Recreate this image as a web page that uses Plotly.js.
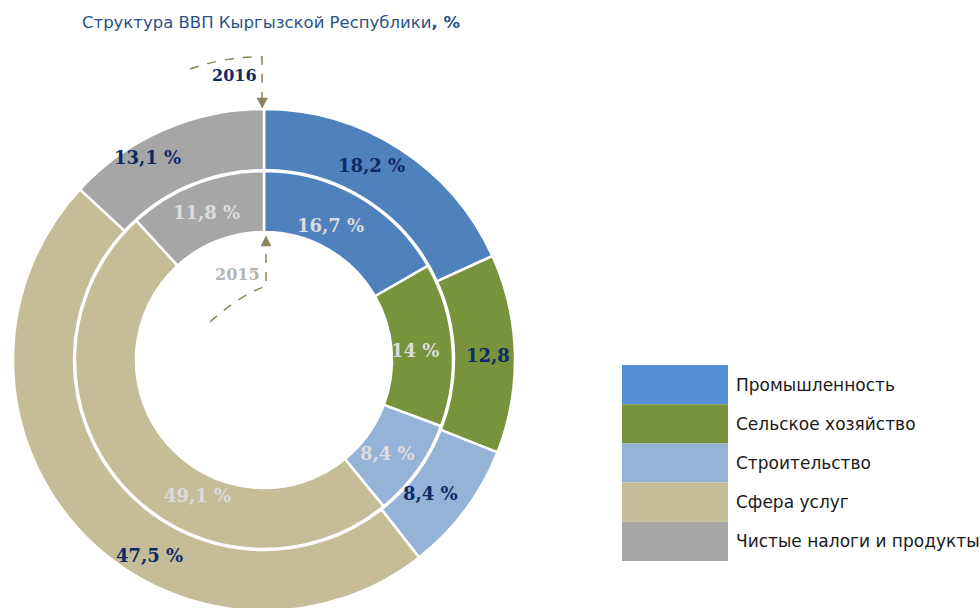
<!DOCTYPE html>
<html>
<head>
<meta charset="utf-8">
<script src="https://cdn.plot.ly/plotly-3.0.1.min.js"></script>
<style>
html,body{margin:0;padding:0;overflow:hidden;background:#fff;}
#chart{width:980px;height:640px;}
</style>
</head>
<body>
<div id="chart"></div>
<script>
// ---- data ----
const categories = ['Промышленность','Сельское хозяйство','Строительство','Сфера услуг','Чистые налоги и продукты'];
const values2016 = [18.2, 12.8, 8.4, 47.5, 13.1];
const values2015 = [16.7, 14.0, 8.4, 49.1, 11.8];
const labels2016 = ['18,2 %','12,8','8,4 %','47,5 %','13,1 %'];
const labels2015 = ['16,7 %','14 %','8,4 %','49,1 %','11,8 %'];
const titleText = 'Структура ВВП Кыргызской Республики<b>, %</b>';

// ---- styles ----
const sliceColors = ['#4f81bd','#77933c','#95b3d7','#c4bd97','#a6a6a6'];
const legendColors = ['#558ed5','#77933c','#95b3d7','#c4bd97','#a6a6a6'];
const W = 980, H = 640;
const fx = x => x / W;
const fy = y => (H - y) / H;
const P = (x, y) => fx(x).toFixed(5) + ',' + fy(y).toFixed(5);

const cx = 264, cy = 360, rOuter = 251, rInner = 189;

const outerPie = {
  type: 'pie', values: values2016, labels: categories, sort: false,
  direction: 'clockwise', rotation: 0, hole: 190 / 251,
  marker: {colors: sliceColors, line: {color: '#ffffff', width: 2.5}},
  textinfo: 'none', hoverinfo: 'label+value', showlegend: false,
  domain: {x: [fx(cx - rOuter), fx(cx + rOuter)], y: [fy(cy + rOuter), fy(cy - rOuter)]}
};
const innerPie = {
  type: 'pie', values: values2015, labels: categories, sort: false,
  direction: 'clockwise', rotation: 0, hole: 128 / 189,
  marker: {colors: sliceColors, line: {color: '#ffffff', width: 2.5}},
  textinfo: 'none', hoverinfo: 'label+value', showlegend: false,
  domain: {x: [fx(cx - rInner), fx(cx + rInner)], y: [fy(cy + rInner), fy(cy - rInner)]}
};

// label placement (pixels)
const outerLabelPos = [[371,165],[488,355],[430,493],[149,555],[147,158]];
const innerLabelPos = [[330,225],[415,350],[387,453],[197,495],[206,213]];
const serifBold = 'DejaVu Serif';

const annotations = [];
labels2016.forEach((t, i) => annotations.push({
  xref: 'paper', yref: 'paper', x: fx(outerLabelPos[i][0]), y: fy(outerLabelPos[i][1]),
  text: '<b>' + t + '</b>', showarrow: false, xanchor: 'center', yanchor: 'middle',
  font: {family: serifBold, size: 18, color: '#0c2a66'}
}));
labels2015.forEach((t, i) => annotations.push({
  xref: 'paper', yref: 'paper', x: fx(innerLabelPos[i][0]), y: fy(innerLabelPos[i][1]),
  text: '<b>' + t + '</b>', showarrow: false, xanchor: 'center', yanchor: 'middle',
  font: {family: serifBold, size: 18, color: '#dcdcdc'}
}));
annotations.push({xref:'paper',yref:'paper',x:fx(234),y:fy(75),text:'<b>2016</b>',showarrow:false,
  xanchor:'center',yanchor:'middle',font:{family:serifBold,size:16,color:'#0c2a66'}});
annotations.push({xref:'paper',yref:'paper',x:fx(237),y:fy(274),text:'<b>2015</b>',showarrow:false,
  xanchor:'center',yanchor:'middle',font:{family:serifBold,size:16,color:'#b3b3b3'}});

// legend
const shapes = [];
const legTop = 365, legH = 39.2;
categories.forEach((c, i) => {
  const y0 = legTop + i * legH;
  shapes.push({type:'rect', xref:'paper', yref:'paper', x0: fx(622), x1: fx(728),
    y0: fy(y0 + legH), y1: fy(y0), fillcolor: legendColors[i], line: {width: 0}, layer: 'above'});
  annotations.push({xref:'paper', yref:'paper', x: fx(734), y: fy(y0 + legH / 2), text: c,
    showarrow:false, xanchor:'left', yanchor:'middle',
    font:{family:'DejaVu Sans', size:17, color:'#1a1a1a'}});
});

// dashed arrows
const arrowColor = '#8c8457';
shapes.push({type:'path', xref:'paper', yref:'paper',
  path: 'M' + P(190,69) + ' Q' + P(228,56) + ' ' + P(262,57) + ' L' + P(262,99),
  line:{color:arrowColor, width:1.5, dash:'dash'}});
shapes.push({type:'path', xref:'paper', yref:'paper',
  path: 'M' + P(257,98) + ' L' + P(267.5,98) + ' L' + P(262.3,108) + ' Z',
  fillcolor: arrowColor, line:{color:arrowColor, width:0.5}});
shapes.push({type:'path', xref:'paper', yref:'paper',
  path: 'M' + P(210,322) + ' Q' + P(240,295) + ' ' + P(266,286) + ' L' + P(266,246),
  line:{color:arrowColor, width:1.5, dash:'dash'}});
shapes.push({type:'path', xref:'paper', yref:'paper',
  path: 'M' + P(261,246) + ' L' + P(271,246) + ' L' + P(266,236) + ' Z',
  fillcolor: arrowColor, line:{color:arrowColor, width:0.5}});

const layout = {
  width: W, height: H,
  margin: {l: 0, r: 0, t: 0, b: 0},
  paper_bgcolor: '#ffffff',
  showlegend: false,
  title: {text: titleText, x: fx(82), xanchor: 'left', y: 1 - 22 / H, yanchor: 'middle',
    font: {family: 'DejaVu Sans', size: 16.5, color: '#2c5287'}},
  annotations: annotations,
  shapes: shapes
};

Plotly.newPlot('chart', [outerPie, innerPie], layout, {displayModeBar: false, staticPlot: true});
</script>
</body>
</html>
